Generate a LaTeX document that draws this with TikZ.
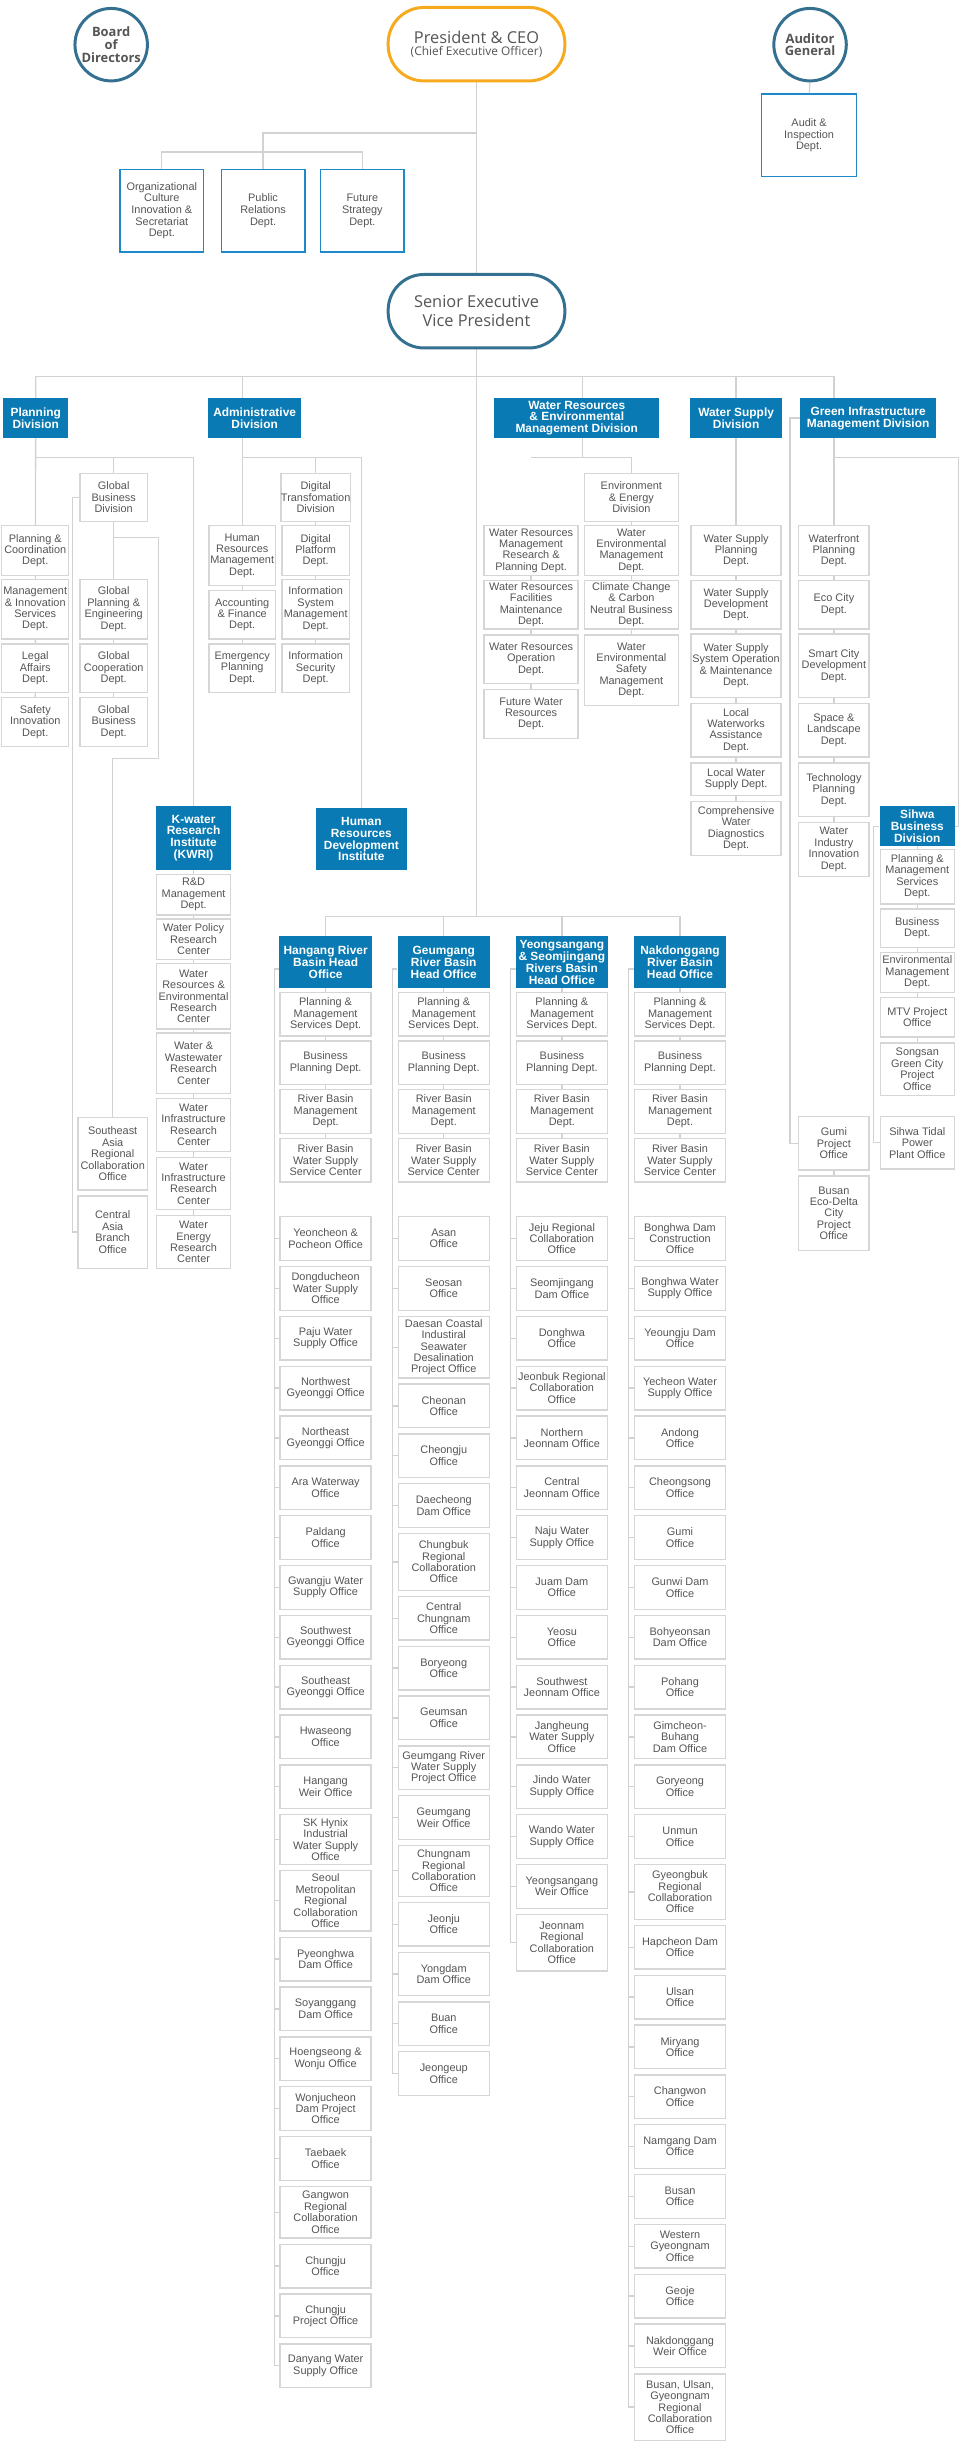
\documentclass[tikz,border=0pt]{standalone}
\usepackage{fontspec}
\setmainfont{Liberation Sans}
\newfontfamily\headfont{Open Sans}
\usetikzlibrary{positioning}

\definecolor{kblue}{RGB}{9,122,179}
\definecolor{boxgray}{RGB}{214,214,214}
\definecolor{linegray}{RGB}{210,210,210}
\definecolor{txtgray}{RGB}{85,85,85}
\definecolor{ceoorange}{RGB}{247,170,30}
\definecolor{execteal}{RGB}{52,112,143}
\definecolor{staffblue}{RGB}{30,136,200}

\pgfdeclarelayer{bg}
\pgfsetlayers{bg,main}

\tikzset{
    conn/.style={draw=linegray, line width=1.3pt},
    dept/.style={draw=boxgray, line width=1.3pt, fill=white, text=txtgray,
        font=\fontsize{11}{11.5}\selectfont, align=center, inner sep=0pt, anchor=north},
    office/.style={dept, minimum width=91.7pt, minimum height=44pt},
    division/.style={fill=kblue, text=white, font=\bfseries\fontsize{12}{12}\selectfont,
        align=center, inner sep=0pt, anchor=north},
    staff/.style={draw=staffblue, line width=1.5pt, fill=white, text=txtgray,
        font=\fontsize{11}{11.8}\selectfont, align=center, inner sep=0pt, anchor=north,
        minimum width=84pt, minimum height=83pt},
    leader/.style={circle, draw=execteal, line width=3pt, fill=white, text=txtgray,
        font=\headfont\bfseries\fontsize{13}{12.7}\selectfont, align=center,
        inner sep=0pt, minimum size=73pt},
    chief/.style={draw, rounded corners=36pt, line width=3pt, fill=white, text=txtgray,
        align=center, inner sep=0pt, minimum width=178pt, minimum height=74pt}
}

\begin{document}
\begin{tikzpicture}[x=1pt, y=-1pt]
        \begin{pgfonlayer}{bg}
            \path[fill=white, use as bounding box] (0,0) rectangle (980,2441);
        \end{pgfonlayer}

        % Top management
        \node[leader] (board) at (112,45) {Board\\of\\Directors};
        \node[chief, draw=ceoorange, font=\headfont] (ceo) at (480,44.5)
            {{\fontsize{16.5}{18}\selectfont President \& CEO}\\{\fontsize{12}{14}\selectfont (Chief Executive Officer)}};
        \node[leader] (auditor) at (816,45) {Auditor\\General};
        \node[staff, minimum width=96pt] (audit) at (815,94) {Audit \&\\Inspection\\Dept.};

        \node[staff] (org) at (163,170) {Organizational\\Culture\\Innovation \&\\Secretariat\\Dept.};
        \node[staff] (pr) at (265,170) {Public\\Relations\\Dept.};
        \node[staff] (fut) at (365,170) {Future\\Strategy\\Dept.};

        \node[chief, draw=execteal, font=\headfont\fontsize{16.5}{19}\selectfont] (sevp) at (480,313.5)
            {Senior Executive\\Vice President};

        \coordinate (staffbus) at (0,134);
        \coordinate (staffbar) at (0,153);
        \coordinate (divbus) at (0,379);
        \coordinate (subbar) at (0,461);
        \coordinate (hqbar) at (0,923);

        % Divisions
        \node[division, minimum width=66pt, minimum height=40pt] (plan) at (36,401) {Planning\\Division};
        \node[division, minimum width=93pt, minimum height=40pt] (adm) at (256.5,401) {Administrative\\Division};
        \node[division, minimum width=166pt, minimum height=40pt] (wrem) at (581,401) {Water Resources\\\& Environmental\\Management Division};
        \node[division, minimum width=93pt, minimum height=40pt] (ws) at (741.5,401) {Water Supply\\Division};
        \node[division, minimum width=137pt, minimum height=40pt] (gim) at (874.5,401) {Green Infrastructure\\Management Division};

        % Planning Division
        \node[dept, minimum width=67.7pt, minimum height=50pt] (pl1) at (35.5,529) {Planning \&\\Coordination\\Dept.};
        \node[dept, minimum width=67.7pt, minimum height=60pt] (pl2) at (35.5,583) {Management\\\& Innovation\\Services\\Dept.};
        \node[dept, minimum width=67.7pt, minimum height=49pt] (pl3) at (35.5,648) {Legal\\Affairs\\Dept.};
        \node[dept, minimum width=67.7pt, minimum height=49pt] (pl4) at (35.5,702) {Safety\\Innovation\\Dept.};

        \node[dept, minimum width=67.7pt, minimum height=49pt] (gbd) at (114.5,476) {Global\\Business\\Division};
        \node[dept, minimum width=67.7pt, minimum height=60pt] (gp1) at (114.5,583) {Global\\Planning \&\\Engineering\\Dept.};
        \node[dept, minimum width=67.7pt, minimum height=49pt] (gp2) at (114.5,648) {Global\\Cooperation\\Dept.};
        \node[dept, minimum width=67.7pt, minimum height=49pt] (gp3) at (114.5,702) {Global\\Business\\Dept.};
        \node[dept, minimum width=69.7pt, minimum height=73pt] (sea) at (113.5,1125) {Southeast\\Asia\\Regional\\Collaboration\\Office};
        \node[dept, minimum width=69.7pt, minimum height=73pt] (ca) at (113.5,1204) {Central\\Asia\\Branch\\Office};

        \node[division, minimum width=76pt, minimum height=64pt] (kwri) at (195,812) {K-water\\Research\\Institute\\(KWRI)};
        \node[dept, minimum width=74.7pt, minimum height=41pt] (kw1) at (195,880) {R\&D\\Management\\Dept.};
        \node[dept, minimum width=74.7pt, minimum height=41pt] (kw2) at (195,925) {Water Policy\\Research\\Center};
        \node[dept, minimum width=74.7pt, minimum height=66pt] (kw3) at (195,970) {Water\\Resources \&\\Environmental\\Research\\Center};
        \node[dept, minimum width=74.7pt, minimum height=61pt] (kw4) at (195,1040) {Water \&\\Wastewater\\Research\\Center};
        \node[dept, minimum width=74.7pt, minimum height=53pt] (kw5) at (195,1106) {Water\\Infrastructure\\Research\\Center};
        \node[dept, minimum width=74.7pt, minimum height=53pt] (kw6) at (195,1165) {Water\\Infrastructure\\Research\\Center};
        \node[dept, minimum width=74.7pt, minimum height=53pt] (kw7) at (195,1224) {Water\\Energy\\Research\\Center};

        % Administrative Division
        \node[dept, minimum width=66.7pt, minimum height=60pt] (hrm) at (244,529) {Human\\Resources\\Management\\Dept.};
        \node[dept, minimum width=66.7pt, minimum height=49pt] (af) at (244,594) {Accounting\\\& Finance\\Dept.};
        \node[dept, minimum width=66.7pt, minimum height=49pt] (ep) at (244,648) {Emergency\\Planning\\Dept.};
        \node[dept, minimum width=67.7pt, minimum height=49pt] (dtd) at (318,476) {Digital\\Transfomation\\Division};
        \node[dept, minimum width=67.7pt, minimum height=50pt] (dp) at (318,529) {Digital\\Platform\\Dept.};
        \node[dept, minimum width=67.7pt, minimum height=60pt] (ism) at (318,583) {Information\\System\\Management\\Dept.};
        \node[dept, minimum width=67.7pt, minimum height=49pt] (isd) at (318,648) {Information\\Security\\Dept.};
        \node[division, minimum width=92pt, minimum height=62pt] (hrdi) at (364,814) {Human\\Resources\\Development\\Institute};

        % Water Resources & Environmental Management Division
        \node[dept, minimum width=94.7pt, minimum height=50pt] (wr1) at (535,529) {Water Resources\\Management\\Research \&\\Planning Dept.};
        \node[dept, minimum width=94.7pt, minimum height=49pt] (wr2) at (535,584) {Water Resources\\Facilities\\Maintenance\\Dept.};
        \node[dept, minimum width=94.7pt, minimum height=49pt] (wr3) at (535,639) {Water Resources\\Operation\\Dept.};
        \node[dept, minimum width=94.7pt, minimum height=49pt] (wr4) at (535,694) {Future Water\\Resources\\Dept.};
        \node[dept, minimum width=94.7pt, minimum height=49pt] (eed) at (636,476) {Environment\\\& Energy\\Division};
        \node[dept, minimum width=94.7pt, minimum height=50pt] (we1) at (636,529) {Water\\Environmental\\Management\\Dept.};
        \node[dept, minimum width=94.7pt, minimum height=49pt] (we2) at (636,584) {Climate Change\\\& Carbon\\Neutral Business\\Dept.};
        \node[dept, minimum width=94.7pt, minimum height=71pt] (we3) at (636,639) {Water\\Environmental\\Safety\\Management\\Dept.};

        % Water Supply Division
        \node[dept, minimum width=90.7pt, minimum height=50pt] (ws1) at (741.5,529) {Water Supply\\Planning\\Dept.};
        \node[dept, minimum width=90.7pt, minimum height=49pt] (ws2) at (741.5,584) {Water Supply\\Development\\Dept.};
        \node[dept, minimum width=90.7pt, minimum height=64pt] (ws3) at (741.5,638) {Water Supply\\System Operation\\\& Maintenance\\Dept.};
        \node[dept, minimum width=90.7pt, minimum height=54pt] (ws4) at (741.5,708) {Local\\Waterworks\\Assistance\\Dept.};
        \node[dept, minimum width=90.7pt, minimum height=33pt] (ws5) at (741.5,768) {Local Water\\Supply Dept.};
        \node[dept, minimum width=90.7pt, minimum height=54pt] (ws6) at (741.5,807) {Comprehensive\\Water\\Diagnostics\\Dept.};

        % Green Infrastructure Management Division
        \node[dept, minimum width=70.7pt, minimum height=50pt] (gi1) at (840,529) {Waterfront\\Planning\\Dept.};
        \node[dept, minimum width=70.7pt, minimum height=49pt] (gi2) at (840,584) {Eco City\\Dept.};
        \node[dept, minimum width=70.7pt, minimum height=64pt] (gi3) at (840,638) {Smart City\\Development\\Dept.};
        \node[dept, minimum width=70.7pt, minimum height=54pt] (gi4) at (840,708) {Space \&\\Landscape\\Dept.};
        \node[dept, minimum width=70.7pt, minimum height=54pt] (gi5) at (840,768) {Technology\\Planning\\Dept.};
        \node[dept, minimum width=70.7pt, minimum height=54pt] (gi6) at (840,828) {Water\\Industry\\Innovation\\Dept.};
        \node[dept, minimum width=70.7pt, minimum height=54pt] (gumi) at (840,1124) {Gumi\\Project\\Office};
        \node[dept, minimum width=70.7pt, minimum height=75pt] (bedc) at (840,1184) {Busan\\Eco-Delta\\City\\Project\\Office};

        \node[division, minimum width=76pt, minimum height=40pt] (sihwa) at (924,812) {Sihwa\\Business\\Division};
        \node[dept, minimum width=74.7pt, minimum height=55pt] (sh1) at (924,855) {Planning \&\\Management\\Services\\Dept.};
        \node[dept, minimum width=74.7pt, minimum height=39pt] (sh2) at (924,915) {Business\\Dept.};
        \node[dept, minimum width=74.7pt, minimum height=40pt] (sh3) at (924,959) {Environmental\\Management\\Dept.};
        \node[dept, minimum width=74.7pt, minimum height=40pt] (sh4) at (924,1004) {MTV Project\\Office};
        \node[dept, minimum width=74.7pt, minimum height=53pt] (sh5) at (924,1050) {Songsan\\Green City\\Project\\Office};
        \node[dept, minimum width=74.7pt, minimum height=53pt] (sh6) at (924,1124) {Sihwa Tidal\\Power\\Plant Office};

        % River Basin Head Offices
        \node[division, minimum width=93pt, minimum height=52pt] (hg) at (328,943) {Hangang River\\Basin Head\\Office};
        \node[division, minimum width=93pt, minimum height=52pt] (gg) at (447,943) {Geumgang\\River Basin\\Head Office};
        \node[division, minimum width=93pt, minimum height=52pt] (ys) at (566,943) {Yeongsangang\\\& Seomjingang\\Rivers Basin\\Head Office};
        \node[division, minimum width=93pt, minimum height=52pt] (nd) at (685,943) {Nakdonggang\\River Basin\\Head Office};

        \foreach \hq/\cx in {hg/328, gg/447, ys/566, nd/685}{
            \node[office, minimum height=44pt] (\hq1) at (\cx,999) {Planning \&\\Management\\Services Dept.};
            \node[office, minimum height=44pt] (\hq2) at (\cx,1048) {Business\\Planning Dept.};
            \node[office, minimum height=44pt] (\hq3) at (\cx,1097) {River Basin\\Management\\Dept.};
            \node[office, minimum height=44pt] (\hq4) at (\cx,1146) {River Basin\\Water Supply\\Service Center};
            \coordinate (\hq o0) at (\cx,1220.1);
        }

        % Offices
        \foreach \h/\txt [count=\i] in {44/{Yeoncheon \&\\Pocheon Office}, 44/{Dongducheon\\Water Supply\\Office},
            44/{Paju Water\\Supply Office}, 44/{Northwest\\Gyeonggi Office}, 44/{Northeast\\Gyeonggi Office},
            44/{Ara Waterway\\Office}, 44/{Paldang\\Office}, 44/{Gwangju Water\\Supply Office},
            44/{Southwest\\Gyeonggi Office}, 44/{Southeast\\Gyeonggi Office}, 44/{Hwaseong\\Office},
            44/{Hangang\\Weir Office}, 50/{SK Hynix\\Industrial\\Water Supply\\Office},
            61/{Seoul\\Metropolitan\\Regional\\Collaboration\\Office}, 44/{Pyeonghwa\\Dam Office},
            44/{Soyanggang\\Dam Office}, 44/{Hoengseong \&\\Wonju Office}, 44/{Wonjucheon\\Dam Project\\Office},
            44/{Taebaek\\Office}, 52/{Gangwon\\Regional\\Collaboration\\Office}, 44/{Chungju\\Office},
            44/{Chungju\\Project Office}, 44/{Danyang Water\\Supply Office}}{
            \pgfmathtruncatemacro\j{\i-1}
            \node[office, minimum height=\h pt, below=4.9pt of hgo\j] (hgo\i) {\txt};
        }
        \foreach \h/\txt [count=\i] in {44/{Asan\\Office}, 44/{Seosan\\Office},
            62/{Daesan Coastal\\Industiral\\Seawater\\Desalination\\Project Office}, 44/{Cheonan\\Office},
            44/{Cheongju\\Office}, 44/{Daecheong\\Dam Office}, 57/{Chungbuk\\Regional\\Collaboration\\Office},
            44/{Central\\Chungnam\\Office}, 44/{Boryeong\\Office}, 44/{Geumsan\\Office},
            44/{Geumgang River\\Water Supply\\Project Office}, 44/{Geumgang\\Weir Office},
            51/{Chungnam\\Regional\\Collaboration\\Office}, 44/{Jeonju\\Office}, 44/{Yongdam\\Dam Office},
            44/{Buan\\Office}, 44/{Jeongeup\\Office}}{
            \pgfmathtruncatemacro\j{\i-1}
            \node[office, minimum height=\h pt, below=4.9pt of ggo\j] (ggo\i) {\txt};
        }
        \foreach \h/\txt [count=\i] in {44/{Jeju Regional\\Collaboration\\Office}, 44/{Seomjingang\\Dam Office},
            44/{Donghwa\\Office}, 44/{Jeonbuk Regional\\Collaboration\\Office}, 44/{Northern\\Jeonnam Office},
            44/{Central\\Jeonnam Office}, 44/{Naju Water\\Supply Office}, 44/{Juam Dam\\Office},
            44/{Yeosu\\Office}, 44/{Southwest\\Jeonnam Office}, 44/{Jangheung\\Water Supply\\Office},
            44/{Jindo Water\\Supply Office}, 44/{Wando Water\\Supply Office}, 44/{Yeongsangang\\Weir Office},
            57/{Jeonnam\\Regional\\Collaboration\\Office}}{
            \pgfmathtruncatemacro\j{\i-1}
            \node[office, minimum height=\h pt, below=4.9pt of yso\j] (yso\i) {\txt};
        }
        \foreach \h/\txt [count=\i] in {44/{Bonghwa Dam\\Construction\\Office}, 44/{Bonghwa Water\\Supply Office},
            44/{Yeoungju Dam\\Office}, 44/{Yecheon Water\\Supply Office}, 44/{Andong\\Office},
            44/{Cheongsong\\Office}, 44/{Gumi\\Office}, 44/{Gunwi Dam\\Office}, 44/{Bohyeonsan\\Dam Office},
            44/{Pohang\\Office}, 44/{Gimcheon-\\Buhang\\Dam Office}, 44/{Goryeong\\Office}, 44/{Unmun\\Office},
            55/{Gyeongbuk\\Regional\\Collaboration\\Office}, 44/{Hapcheon Dam\\Office}, 44/{Ulsan\\Office},
            44/{Miryang\\Office}, 44/{Changwon\\Office}, 44/{Namgang Dam\\Office}, 44/{Busan\\Office},
            44/{Western\\Gyeongnam\\Office}, 44/{Geoje\\Office}, 44/{Nakdonggang\\Weir Office},
            67/{Busan, Ulsan,\\Gyeongnam\\Regional\\Collaboration\\Office}}{
            \pgfmathtruncatemacro\j{\i-1}
            \node[office, minimum height=\h pt, below=4.9pt of ndo\j] (ndo\i) {\txt};
        }

        % Connectors
        \begin{pgfonlayer}{bg}
            \draw[conn] (ceo) -- (sevp);
            \draw[conn] (auditor) -- (audit);
            \draw[conn] (pr.north) |- (ceo |- staffbus);
            \draw[conn] (org.north) |- (fut.north |- staffbar) -- (fut.north);

            \draw[conn] (sevp) -- (sevp |- hqbar);
            \draw[conn] (plan.north |- divbus) -- (gi1.north |- divbus);
            \draw[conn] (plan.north |- divbus) -- (pl4);
            \draw[conn] (hrm.north |- divbus) -- (ep);
            \draw[conn] ([xshift=6pt, yshift=22pt]wrem.north) -- ([xshift=6pt, yshift=-20pt]wrem.south);
            \draw[conn] (ws.north |- divbus) -- (ws6);
            \draw[conn] (gi1.north |- divbus) -- (gi6);

            \draw[conn] (plan.north |- subbar) -| (kwri.north);
            \draw[conn] (gbd.north) -- (gbd.north |- subbar);
            \draw[conn] (gbd) -- (gp3);
            \draw[conn] ([yshift=-15pt]gbd.south) -- ++(45,0) -- ++(0,223) -| (sea.north);
            \draw[conn] (gbd.west) -- ++(-7,0) |- (ca.west);
            \draw[conn] (kwri) -- (kw7);

            \draw[conn] (hrm.north |- subbar) -| (hrdi.north);
            \draw[conn] (dtd.north |- subbar) -- (isd);

            \draw[conn] (wr1.north |- subbar) -| (eed.north);
            \draw[conn] (wr1) -- (wr4);
            \draw[conn] (eed) -- (we3);

            \draw[conn] (gi1.north |- subbar) -| ([xshift=3pt]sihwa.east) -- (sihwa.east);
            \draw[conn] (gim.west) -- ++(-10,0) |- (gumi.west);
            \draw[conn] (gumi) -- (bedc);
            \draw[conn] (sihwa) -- (sh5);
            \draw[conn] (sihwa.west) -- ++(-6,0) |- (sh6.west);

            \draw[conn] (hg.north) |- (nd.north |- hqbar) -- (nd.north);
            \draw[conn] (gg.north) -- (gg.north |- hqbar);
            \draw[conn] (ys.north) -- (ys.north |- hqbar);
            \foreach \hq/\nlast in {hg/23, gg/17, ys/15, nd/24}{
                \draw[conn] (\hq) -- (\hq4);
                \draw[conn] ([yshift=-7pt]\hq.west) -- ++(-5,0) |- (\hq o\nlast.west);
                \foreach \i in {1,...,\nlast} \draw[conn] (\hq o\i.west) -- ++(-5,0);
            }
        \end{pgfonlayer}
\end{tikzpicture}
\end{document}
